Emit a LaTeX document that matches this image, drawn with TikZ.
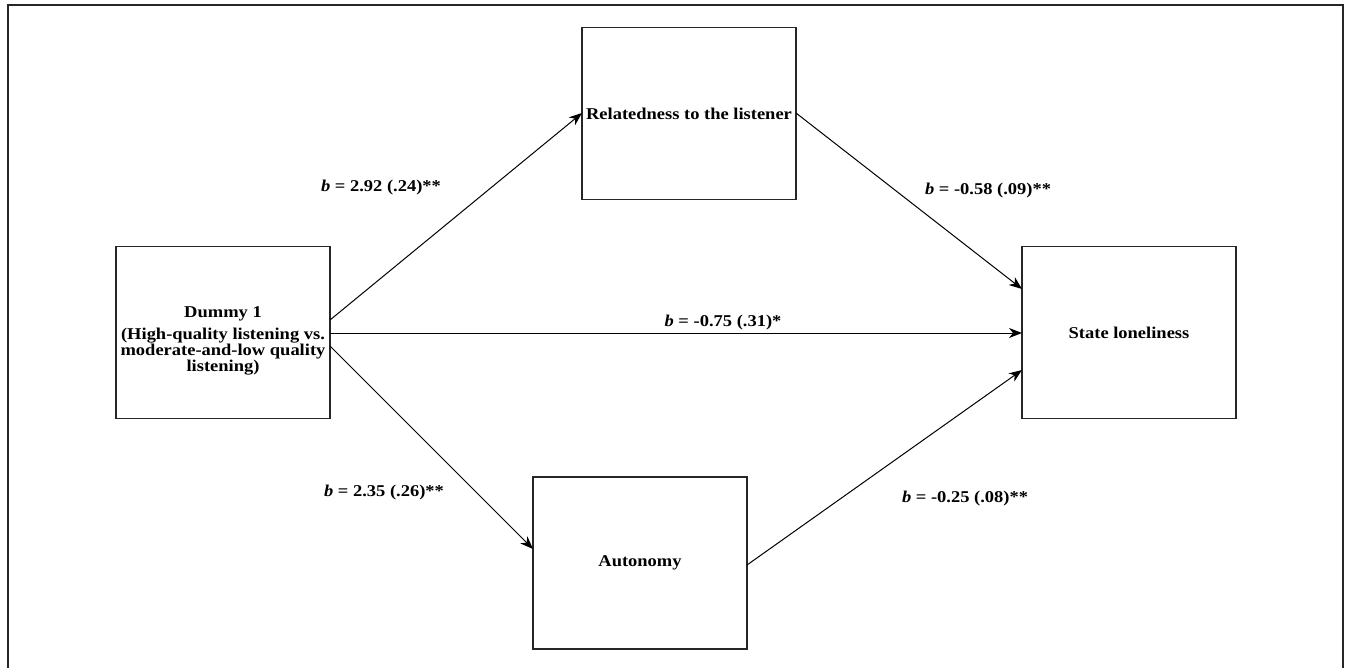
\documentclass[tikz,border=0pt]{standalone}
\usepackage{fontspec}
\setmainfont{Liberation Serif}[FakeStretch=1.12]
\usetikzlibrary{arrows.meta}
\begin{document}
\begin{tikzpicture}[x=1pt,y=-1pt,
  varbox/.style={draw=black!85,line width=1.4pt,rectangle,minimum width=214pt,minimum height=172pt,
    align=center,font=\fontsize{16.5}{16}\selectfont\bfseries,inner sep=0pt},
  vartext/.style={align=center,font=\fontsize{16.5}{16}\selectfont\bfseries,inner sep=0pt},
  path/.style={line width=1pt,-{Stealth[length=13pt,width=10pt,inset=4pt]}},
  coef/.style={font=\fontsize{16.5}{16}\selectfont\bfseries,inner sep=0pt}]
\useasboundingbox (0,0) rectangle (1346,668);
\draw[line width=2pt,black!85] (8,668) -- (8,5) -- (1343,5) -- (1343,668);
\node[varbox] (x) at (223,332.5) {};
\node[vartext] (xt) at ([yshift=-8pt]x.center) {Dummy 1\\[6pt](High-quality listening vs.\\moderate-and-low quality\\listening)};
\node[varbox] (m1) at (689,113.5) {Relatedness to the listener};
\node[varbox] (m2) at (640,563) {Autonomy};
\node[varbox] (y) at (1129,332.5) {State loneliness};
\coordinate (xa) at (330,320);
\coordinate (xb) at (330,333);
\coordinate (xc) at (330,346);
\coordinate (m1in) at (582,113);
\coordinate (m1out) at (796,113);
\coordinate (m2in) at (533,549);
\coordinate (m2out) at (747,565);
\coordinate (ya) at (1022,289);
\coordinate (yb) at (1022,333);
\coordinate (yc) at (1022,370);
\draw[path] (xa) -- (m1in);
\draw[path] (xb) -- (yb);
\draw[path] (xc) -- (m2in);
\draw[path] (m1out) -- (ya);
\draw[path] (m2out) -- (yc);
\node[coef] (l1) at (381,188) {\textit{b} = 2.92 (.24)**};
\node[coef] (l2) at (723,323) {\textit{b} = -0.75 (.31)*};
\node[coef] (l3) at (988,191) {\textit{b} = -0.58 (.09)**};
\node[coef] (l4) at (384,493) {\textit{b} = 2.35 (.26)**};
\node[coef] (l5) at (965,499) {\textit{b} = -0.25 (.08)**};
\end{tikzpicture}
\end{document}
